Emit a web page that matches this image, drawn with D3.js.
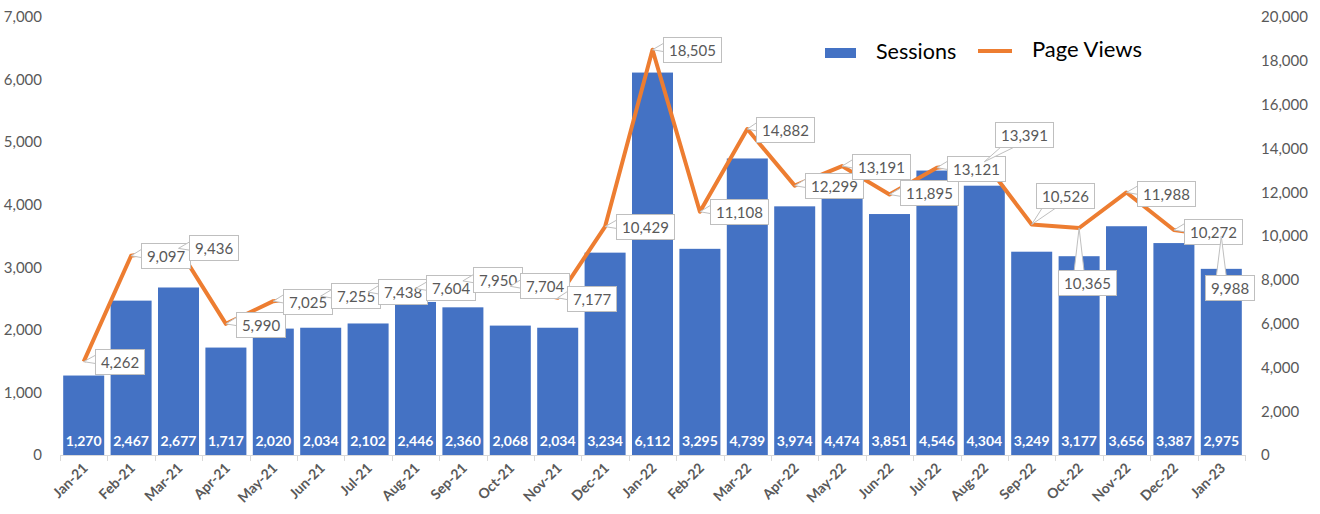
<!DOCTYPE html>
<html>
<head>
<meta charset="utf-8">
<script src="https://cdn.jsdelivr.net/npm/d3@7"></script>
<style>
  body { margin: 0; background: #fff; }
  svg { display: block; font-family: Lato, "Open Sans", sans-serif; }
</style>
</head>
<body>
<script>
// chart data
var months = ['Jan-21', 'Feb-21', 'Mar-21', 'Apr-21', 'May-21', 'Jun-21', 'Jul-21', 'Aug-21', 'Sep-21',
    'Oct-21', 'Nov-21', 'Dec-21', 'Jan-22', 'Feb-22', 'Mar-22', 'Apr-22', 'May-22', 'Jun-22', 'Jul-22',
    'Aug-22', 'Sep-22', 'Oct-22', 'Nov-22', 'Dec-22', 'Jan-23'];
var sessions = [1270, 2467, 2677, 1717, 2020, 2034, 2102, 2446, 2360, 2068, 2034, 3234, 6112,
    3295, 4739, 3974, 4474, 3851, 4546, 4304, 3249, 3177, 3656, 3387, 2975];
var pageViews = [4262, 9097, 9436, 5990, 7025, 7255, 7438, 7604, 7950, 7704, 7177, 10429, 18505,
    11108, 14882, 12299, 13191, 11895, 13121, 13391, 10526, 10365, 11988, 10272, 9988];
var leftTicks = [0, 1000, 2000, 3000, 4000, 5000, 6000, 7000];
var rightTicks = [0, 2000, 4000, 6000, 8000, 10000, 12000, 14000, 16000, 18000, 20000];
var seriesNames = ['Sessions', 'Page Views'];

// where each callout box sits relative to its point (layout only)
var calloutOffsets = [[11, -13], [10, -13], [10, -13], [10, -12], [10, -12], [10, -13], [10, -13],
    [10, -13], [10, -14], [10, -13], [9, -12], [11, -13], [10, -13], [10, -13], [9, -12], [10, -13],
    [10, -12], [10, -14], [10, -12], [11, -40], [4, -41], [-21, 42], [10, -11], [10, -11], [-16, 39]];

var width = 1320, height = 514;
var margin = { top: 17, right: 75, bottom: 59, left: 60 };
var blue = '#4472C4', orange = '#ED7D31', grey = '#595959';

var svg = d3.select('body').append('svg')
    .attr('width', width)
    .attr('height', height);

var x = d3.scaleBand()
    .domain(months)
    .range([margin.left, width - margin.right])
    .paddingInner(0.135)
    .paddingOuter(0.0675);
var yLeft = d3.scaleLinear().domain([0, 7000]).range([height - margin.bottom, margin.top]);
var yRight = d3.scaleLinear().domain([0, 20000]).range([height - margin.bottom, margin.top]);
var fmt = d3.format(',');
var step = x.step();
var cx = function (d) { return x(d) + x.bandwidth() / 2; };

// left axis
svg.append('g')
    .attr('transform', 'translate(' + (margin.left - 15) + ',0)')
    .call(d3.axisLeft(yLeft).tickValues(leftTicks).tickFormat(fmt).tickSize(0))
    .call(function (g) { g.select('.domain').remove(); })
    .selectAll('text')
    .attr('fill', grey)
    .style('font-size', '15px')
    .style('font-family', 'Lato, sans-serif');

// right axis
svg.append('g')
    .attr('transform', 'translate(' + (width - margin.right + 13) + ',0)')
    .call(d3.axisRight(yRight).tickValues(rightTicks).tickFormat(fmt).tickSize(0))
    .call(function (g) { g.select('.domain').remove(); })
    .selectAll('text')
    .attr('fill', grey)
    .style('font-size', '15px')
    .style('font-family', 'Lato, sans-serif');

// bars
svg.append('g').selectAll('rect')
    .data(months)
    .enter().append('rect')
    .attr('x', function (d) { return x(d); })
    .attr('width', x.bandwidth())
    .attr('y', function (d, i) { return yLeft(sessions[i]); })
    .attr('height', function (d, i) { return yLeft(0) - yLeft(sessions[i]); })
    .attr('fill', blue);

// bar labels
svg.append('g').selectAll('text')
    .data(months)
    .enter().append('text')
    .attr('x', cx)
    .attr('y', yLeft(0) - 9)
    .attr('text-anchor', 'middle')
    .attr('fill', '#fff')
    .style('font-size', '14px')
    .style('font-weight', 'bold')
    .text(function (d, i) { return fmt(sessions[i]); });

// x axis line + ticks
var xAxis = svg.append('g');
xAxis.append('line')
    .attr('x1', margin.left).attr('x2', width - margin.right)
    .attr('y1', yLeft(0) + 0.5).attr('y2', yLeft(0) + 0.5)
    .attr('stroke', '#d9d9d9');
xAxis.selectAll('line.tick')
    .data(months.concat(['end']))
    .enter().append('line')
    .attr('class', 'tick')
    .attr('x1', function (d, i) { return Math.round(margin.left + i * step) + 0.5; })
    .attr('x2', function (d, i) { return Math.round(margin.left + i * step) + 0.5; })
    .attr('y1', yLeft(0)).attr('y2', yLeft(0) + 6)
    .attr('stroke', '#d9d9d9');
xAxis.selectAll('text')
    .data(months)
    .enter().append('text')
    .attr('transform', function (d) { return 'translate(' + (cx(d) + 5) + ',' + (yLeft(0) + 14) + ') rotate(-45)'; })
    .attr('text-anchor', 'end')
    .attr('fill', grey)
    .style('font-size', '14px')
    .style('font-weight', 'bold')
    .text(function (d) { return d; });

// page views line
var line = d3.line()
    .x(function (d, i) { return cx(months[i]); })
    .y(function (d) { return yRight(d); });
svg.append('path')
    .datum(pageViews)
    .attr('d', line)
    .attr('fill', 'none')
    .attr('stroke', orange)
    .attr('stroke-width', 4)
    .attr('stroke-linejoin', 'round');

// callouts
var callouts = svg.append('g');
pageViews.forEach(function (v, i) {
    var px = cx(months[i]), py = yRight(v);
    var g = callouts.append('g');
    var t = g.append('text')
        .attr('fill', grey)
        .style('font-size', '15px')
        .text(fmt(v));
    var tw = t.node().getComputedTextLength();
    var bw = Math.round(tw + 11), bh = 25;
    var bx = Math.round(px + calloutOffsets[i][0]) + 0.5;
    var by = Math.round(py + calloutOffsets[i][1]) + 0.5;
    var pts;
    if (by > py) {
        var mx = Math.max(bx + 7, Math.min(bx + bw - 7, px));
        pts = [[mx - 5, by + 1], [px, py], [mx + 5, by + 1]];
    } else if (by + bh < py) {
        var mx2 = Math.max(bx + 8, Math.min(bx + bw - 8, px));
        pts = [[mx2 - 2, by + bh - 1], [px, py], [mx2 + 12, by + bh - 1]];
    } else {
        var my = Math.max(by + 5, Math.min(by + bh - 5, py));
        pts = [[bx + 1, my - 7], [px, py], [bx + 1, my + 2]];
    }
    g.insert('path', 'text')
        .attr('d', 'M' + pts.map(function (p) { return p.join(','); }).join('L') + 'Z')
        .attr('fill', '#fff')
        .attr('stroke', '#bfbfbf');
    g.insert('rect', 'text')
        .attr('x', bx).attr('y', by)
        .attr('width', bw).attr('height', bh)
        .attr('fill', '#fff')
        .attr('stroke', '#bfbfbf');
    t.attr('x', bx + bw / 2).attr('y', by + 18).attr('text-anchor', 'middle');
});

// legend
var legend = svg.append('g');
legend.append('rect')
    .attr('x', 825).attr('y', 48).attr('width', 31).attr('height', 10)
    .attr('fill', blue);
legend.append('text')
    .attr('x', 876).attr('y', 59)
    .attr('fill', '#000')
    .style('font-size', '21.5px')
    .text(seriesNames[0]);
legend.append('line')
    .attr('x1', 978).attr('x2', 1012).attr('y1', 51).attr('y2', 51)
    .attr('stroke', orange).attr('stroke-width', 4);
legend.append('text')
    .attr('x', 1032).attr('y', 57)
    .attr('fill', '#000')
    .style('font-size', '22px')
    .text(seriesNames[1]);
</script>
</body>
</html>
